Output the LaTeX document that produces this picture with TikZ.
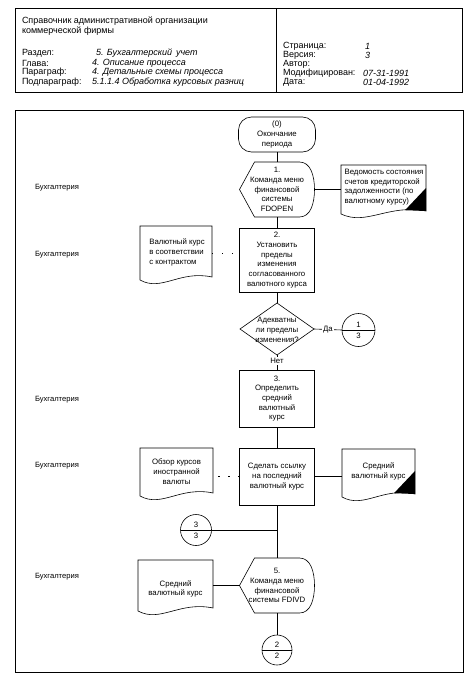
\documentclass[tikz,border=0pt]{standalone}
\usepackage{fontspec}
\setmainfont{Liberation Sans}
\usetikzlibrary{calc,shapes.geometric}
\newcommand\dispshape[1]{%
  \draw[shapeline] (#1.west) -- ($(#1.north west)+(15,0)$) -- ($(#1.north east)+(-15,0)$)
    .. controls ($(#1.north east)+(-4,0)$) and ($(#1.east)+(0,-14)$) .. (#1.east)
    .. controls ($(#1.east)+(0,14)$) and ($(#1.south east)+(-4,0)$) .. ($(#1.south east)+(-15,0)$)
    -- ($(#1.south west)+(15,0)$) -- cycle;}
\newcommand\docshape[1]{%
  \draw[shapeline] let \p1=(#1.south west), \p2=(#1.north east) in
    (\x1,\y1) -- (\x1,\y2) -- (\x2,\y2) -- (\x2,\y1+3pt)
    .. controls ({\x1+0.55*(\x2-\x1)},\y1+10pt) and ({\x1+0.3*(\x2-\x1)},\y1-12pt) .. (\x1,\y1) -- cycle;}
\newcommand\doctri[1]{%
  \fill let \p1=(#1.south west), \p2=(#1.north east) in
    (\x2,\y1+26pt) -- (\x2,\y1+3pt) -- (\x2-21pt,\y1+3.8pt) -- cycle;}
\begin{document}
\begin{tikzpicture}[x=1pt,y=-1pt,
  every node/.style={inner sep=0pt, outer sep=0pt},
  shapeline/.style={line width=0.6pt},
  flow/.style={line width=0.6pt},
  dotflow/.style={line width=0.9pt, dash pattern=on 1.4pt off 8.6pt},
  frameline/.style={line width=0.9pt},
  txt/.style={font=\fontsize{7.8}{9.7}\selectfont, align=center},
  ltxt/.style={font=\fontsize{7.8}{9.7}\selectfont, align=left},
  hdr/.style={font=\fontsize{9}{10}\selectfont, anchor=west},
  hdrv/.style={font=\fontsize{9}{10}\selectfont\itshape, anchor=west},
  lane/.style={font=\fontsize{7.6}{9}\selectfont, anchor=west},
  box/.style={draw, rectangle, line width=0.6pt, minimum width=75pt, txt},
  blank/.style={rectangle, draw=none},
  conn/.style={circle, draw, line width=0.6pt},
  lbl/.style={fill=white, inner sep=1pt, font=\fontsize{7.8}{9}\selectfont}
]
\useasboundingbox (0,0) rectangle (472,688);

% header
\draw[frameline] (15,8) rectangle (462,92);
\draw[frameline] (276,8) -- (276,92);
\node[hdr] (t1) at (22,21) {Справочник административной организации};
\node[hdr] (t2) at (22,31) {коммерческой фирмы};
\node[hdr] (l1) at (22,53) {Раздел:};
\node[hdr] (l2) at (22,63) {Глава:};
\node[hdr] (l3) at (22,72.5) {Параграф:};
\node[hdr] (l4) at (22,82) {Подпараграф:};
\node[hdrv] (v1) at (96,53) {5. Бухгалтерский\, учет};
\node[hdrv] (v2) at (92,63) {4. Описание процесса};
\node[hdrv] (v3) at (92,72.5) {4. Детальные схемы процесса};
\node[hdrv] (v4) at (92,82) {5.1.1.4 Обработка курсовых разниц};
\node[hdr] (r1) at (283,46) {Страница:};
\node[hdr] (r2) at (283,55) {Версия:};
\node[hdr] (r3) at (283,64) {Автор:};
\node[hdr] (r4) at (283,73) {Модифицирован:};
\node[hdr] (r5) at (283,82) {Дата:};
\node[hdrv] (w1) at (365,46) {1};
\node[hdrv] (w2) at (365,55) {3};
\node[hdrv] (w4) at (363,73) {07-31-1991};
\node[hdrv] (w5) at (363,82) {01-04-1992};

% main frame
\draw[frameline] (15,110) rectangle (463,672);

% lane labels
\node[lane] (ln1) at (35,188) {Бухгалтерия};
\node[lane] (ln2) at (35,255) {Бухгалтерия};
\node[lane] (ln3) at (35,400) {Бухгалтерия};
\node[lane] (ln4) at (35,466) {Бухгалтерия};
\node[lane] (ln5) at (35,577) {Бухгалтерия};

% terminal
\node[draw, rectangle, rounded corners=13pt, line width=0.6pt, minimum width=77pt, minimum height=35pt, txt] (term) at (277,134.5) {(0)\\Окончание\\периода};

% display shape 1
\node[blank, minimum width=75pt, minimum height=55pt, txt] (hex1) at (277,189.5) {1.\\Команда меню\\финансовой\\системы\\FDOPEN};
\dispshape{hex1}

% document Ведомость
\node[blank, minimum width=85pt, minimum height=49pt] (docV) at (383.5,189.5) {};
\docshape{docV}
\doctri{docV}
\node[ltxt] (docVt) at (384,187) {Ведомость состояния\\счетов кредиторской\\задолженности (по\\валютному курсу)};

% box 2
\node[box, minimum height=64pt] (box2) at (277,260) {2.\\Установить\\пределы\\изменения\\согласованного\\валютного курса};

% document Валютный курс
\node[blank, minimum width=72pt, minimum height=54pt] (docK) at (176,253) {};
\docshape{docK}
\node[ltxt] (docKt) at (177,252.5) {Валютный курс\\в соответствии\\с контрактом};

% decision
\node[diamond, draw, line width=0.6pt, minimum width=74pt, minimum height=52pt] (dec) at (277,329) {};
\node[txt] (dect) at (277,330) {Адекватны\\ли пределы\\изменения?};

% connector 1/3
\node[conn, minimum size=33pt] (c13) at (358.5,330) {};
\node[txt] (c13a) at (358.5,324.5) {1};
\node[txt] (c13b) at (358.5,335.5) {3};

% box 3
\node[box, minimum height=57pt] (box3) at (277,398.5) {3.\\Определить\\средний\\валютный\\курс};

% box 4
\node[box, minimum height=57pt] (box4) at (277,476.5) {Сделать ссылку\\на последний\\валютный курс};

% document Обзор курсов
\node[blank, minimum width=73pt, minimum height=48pt] (docO) at (176.5,472) {};
\docshape{docO}
\node[txt] (docOt) at (176.5,471.5) {Обзор курсов\\иностранной\\валюты};

% document Средний валютный курс (right)
\node[blank, minimum width=73pt, minimum height=48pt] (docS1) at (378.5,473) {};
\docshape{docS1}
\doctri{docS1}
\node[txt] (docS1t) at (378.5,471.5) {Средний\\валютный курс};

% connector 3/3
\node[conn, minimum size=31pt] (c33) at (196,530) {};
\node[txt] (c33a) at (196,524.5) {3};
\node[txt] (c33b) at (196,535.5) {3};

% display shape 5
\node[blank, minimum width=75pt, minimum height=55pt, txt] (hex5) at (277,585.5) {5.\\Команда меню\\финансовой\\системы FDIVD};
\dispshape{hex5}

% document Средний валютный курс (left)
\node[blank, minimum width=75pt, minimum height=51pt] (docS2) at (175.5,585.5) {};
\docshape{docS2}
\node[txt] (docS2t) at (175.5,589) {Средний\\валютный курс};

% connector 2/2
\node[conn, minimum size=30pt] (c22) at (277,650) {};
\node[txt] (c22a) at (277,644.5) {2};
\node[txt] (c22b) at (277,655.5) {2};

% connectors
\draw[flow] (term.south) -- (hex1.north);
\draw[flow] (hex1.east) -- (docV.west);
\draw[flow] (hex1.south) -- (box2.north);
\draw[dotflow] (docK.east) -- (docK.east -| box2.west);
\draw[flow] (box2.south) -- (dec.north);
\draw[flow] (dec.east) -- (c13.west) node[lbl, pos=0.5] {Да};
\draw[flow] (c13.west) -- (c13.east);
\draw[flow] (dec.south) -- (box3.north) node[lbl, pos=0.4] {Нет};
\draw[flow] (box3.south) -- (box4.north);
\draw[dotflow] (box4.west) -- (box4.west -| docO.east);
\draw[flow] (box4.east) -- (box4.east -| docS1.west);
\draw[flow] (box4.south) -- (hex5.north);
\draw[flow] (c33.east) -- (c33.east -| hex5.north);
\draw[flow] (c33.west) -- (c33.east);
\draw[flow] (docS2.east) -- (hex5.west);
\draw[flow] (hex5.south) -- (c22.north);
\draw[flow] (c22.west) -- (c22.east);
\end{tikzpicture}
\end{document}
